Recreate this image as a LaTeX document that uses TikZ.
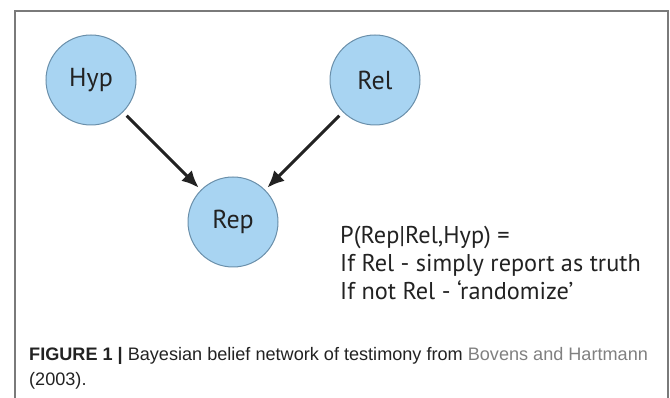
\documentclass[tikz,border=0pt]{standalone}
\usepackage{fontspec}
\setmainfont{Liberation Sans}
\newfontfamily\figfont{PT Sans}
\usetikzlibrary{arrows.meta,positioning}
\definecolor{bubble}{HTML}{A8D4F2}
\definecolor{rim}{HTML}{6A8FAA}
\definecolor{frame}{HTML}{7A7A7A}
\definecolor{linkgray}{HTML}{808080}
\definecolor{ink}{HTML}{222222}

\begin{document}
\begin{tikzpicture}[x=1pt,y=-1pt,
  var/.style={circle,draw=rim,fill=bubble,line width=1pt,minimum size=90pt,inner sep=0pt,
    font=\figfont\fontsize{26}{28}\selectfont,text=ink},
  link/.style={-{Latex[length=17pt,width=15pt]},line width=3pt,ink,shorten <=5pt,shorten >=3pt}]
\useasboundingbox (0,0) rectangle (670,398);
\draw[frame,line width=1.4pt] (15,400)--(15,11)--(668,11)--(668,400);
\node[var] (hyp) at (91,80){Hyp};
\node[var] (rel) at (375,80){Rel};
\node[var] (rep) at (233,222){Rep};
\draw[link] (hyp)--(rep);
\draw[link] (rel)--(rep);
\node[anchor=north west,align=left,text=ink,font=\figfont\fontsize{24.3}{28}\selectfont,inner sep=0pt] (cpt) at (340,226)
  {P(Rep|Rel,Hyp) =\\If Rel - simply report as truth\\If not Rel - ‘randomize’};
\node[anchor=north west,align=left,inner sep=0pt,font=\fontsize{18.1}{25}\selectfont,text=ink] (cap) at (29,347)
  {\textbf{FIGURE 1 |} Bayesian belief network of testimony from \textcolor{linkgray}{Bovens and Hartmann}\\(2003).};
\end{tikzpicture}
\end{document}
